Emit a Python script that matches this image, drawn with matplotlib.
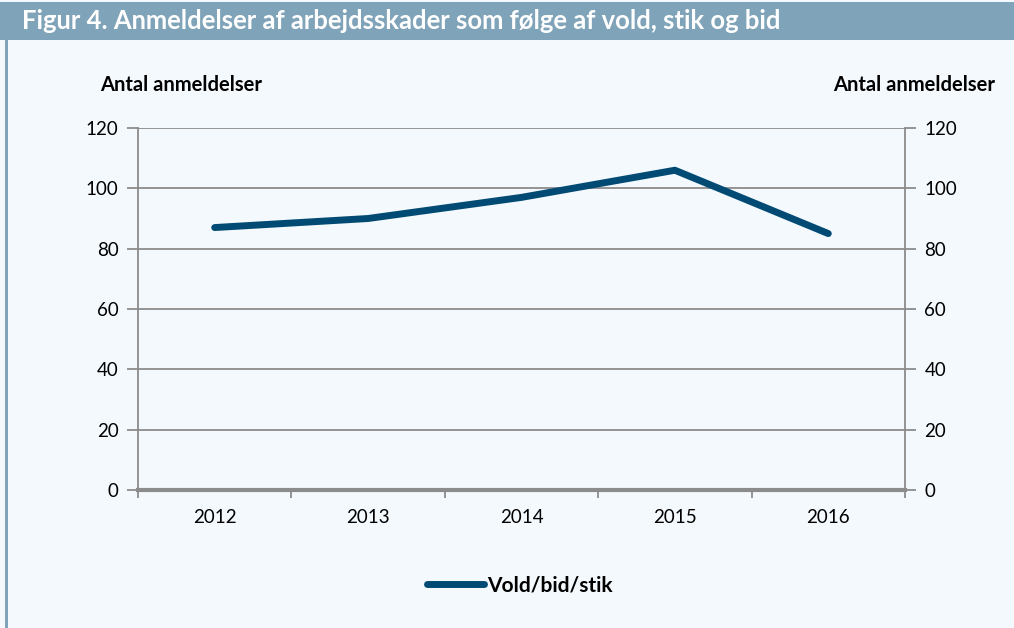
import matplotlib
matplotlib.use("Agg")
import matplotlib.pyplot as plt
from matplotlib.lines import Line2D
from matplotlib.patches import Rectangle

years = ["2012", "2013", "2014", "2015", "2016"]
values = [87, 90, 97, 106, 85]
yticks = [0, 20, 40, 60, 80, 100, 120]
title = "Figur 4. Anmeldelser af arbejdsskader som følge af vold, stik og bid"
ylabel = "Antal anmeldelser"
series_name = "Vold/bid/stik"

W, H = 1014, 628
plt.rcParams['font.family'] = ['Lato', 'DejaVu Sans']
fig = plt.figure(figsize=(W / 100, H / 100), dpi=100)
fig.patch.set_facecolor("#f4f9fd")

# header band
fig.patches.append(Rectangle((0, 1 - 40 / H), 1, 38 / H, transform=fig.transFigure,
                             facecolor="#7fa3b8", edgecolor="none", zorder=0))
fig.patches.append(Rectangle((5 / W, 0), 3 / W, 1 - 40 / H, transform=fig.transFigure,
                             facecolor="#7fa3b8", edgecolor="none", zorder=0))
fig.text(22 / W, 1 - 21 / H, title, color="white", fontsize=18.45, fontweight="bold",
         va="center", ha="left")

ax = fig.add_axes([138 / W, 1 - 490 / H, (905 - 138) / W, (490 - 128) / H])
ax.set_facecolor("none")
x = list(range(len(years)))
ax.plot(x, values, color="#004a73", lw=5, solid_capstyle="round", solid_joinstyle="round", zorder=3)
ax.set_xlim(-0.5, len(years) - 0.5)
ax.set_ylim(0, 120)
ax.set_yticks(yticks)
ax.set_yticklabels([str(v) for v in yticks])
ax.grid(axis="y", color="#8c8c8c", lw=1.3)
ax.set_axisbelow(True)
ax.set_xticks(x)
ax.set_xticklabels(years)
ax.set_xticks([i - 0.5 for i in range(len(years) + 1)], minor=True)
ax.tick_params(axis="x", which="major", length=0, pad=14, labelsize=13.5)
ax.tick_params(axis="x", which="minor", length=6, width=1.3, color="#8c8c8c", direction="out")
ax.tick_params(axis="y", length=8, width=1.3, color="#8c8c8c", labelsize=13.5, pad=6,
               left=True, right=True, labelleft=True, labelright=True)
for s in ["left", "right"]:
    ax.spines[s].set_color("#8c8c8c")
    ax.spines[s].set_linewidth(1.3)
ax.spines["top"].set_visible(False)
ax.spines["bottom"].set_color("#8c8c8c")
ax.spines["bottom"].set_linewidth(3)

fig.text(100 / W, 1 - 85 / H, ylabel, fontsize=14.5, fontweight="bold", ha="left", va="center")
fig.text(995 / W, 1 - 85 / H, ylabel, fontsize=14.5, fontweight="bold", ha="right", va="center")

handle = Line2D([], [], color="#004a73", lw=5, solid_capstyle="round")
fig.legend([handle], [series_name], loc="center", bbox_to_anchor=(520 / W, 1 - 585 / H),
           frameon=False, handlelength=2.75, handletextpad=0.15,
           prop={"weight": "bold", "size": 15})

fig.savefig("out.png", dpi=100, facecolor=fig.get_facecolor())
